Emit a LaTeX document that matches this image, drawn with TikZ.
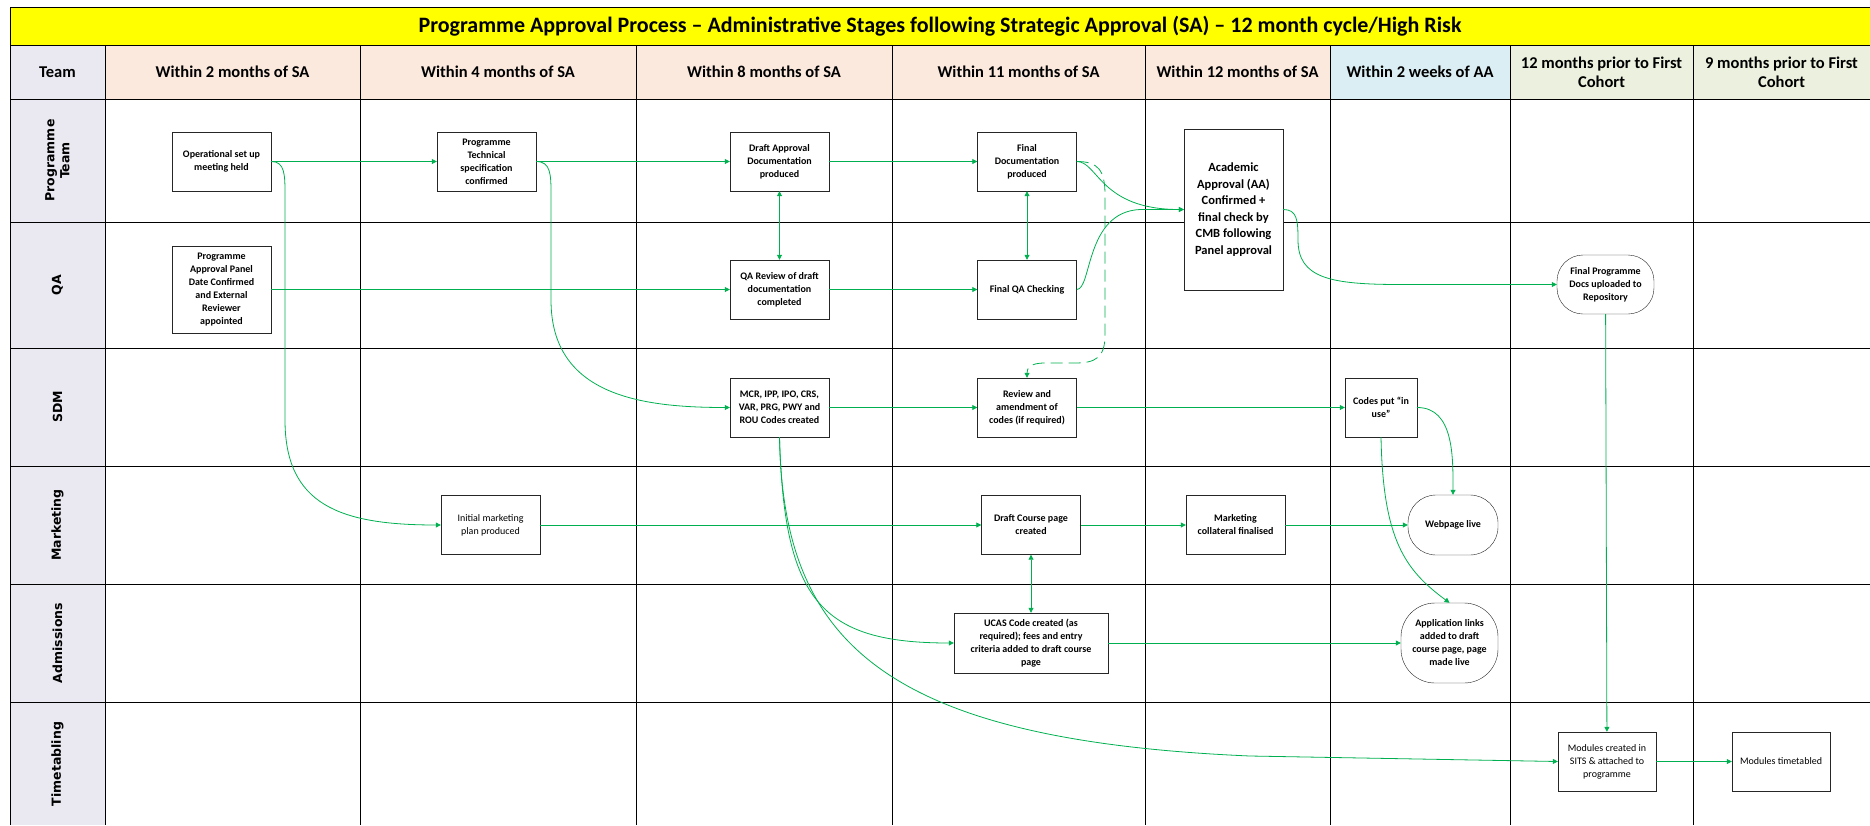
\documentclass[tikz,border=0pt]{standalone}
\usepackage{fontspec}
\setmainfont{Carlito}
\newfontfamily\lanefont{DejaVu Sans}
\usetikzlibrary{arrows.meta}
\definecolor{flowgreen}{RGB}{0,176,80}
\definecolor{titleyellow}{RGB}{255,255,0}
\definecolor{peach}{RGB}{251,233,222}
\definecolor{paleblue}{RGB}{218,238,243}
\definecolor{palegreen}{RGB}{235,241,222}
\definecolor{lavender}{RGB}{234,232,240}
\begin{document}
\begin{tikzpicture}[x=1pt,y=-1pt,
    >={Triangle[length=5pt,width=5pt]},
    task/.style={draw=black!85,fill=white,align=center,inner sep=1pt,
      minimum width=99pt,minimum height=59pt,
      font=\fontsize{10}{13}\selectfont\bfseries},
    lighttask/.style={task,font=\fontsize{10}{13}\selectfont},
    endtask/.style={task,rounded corners=26pt},
    link/.style={draw=flowgreen,line width=0.8pt},
    hdr/.style={font=\fontsize{16.5}{19}\selectfont\bfseries,align=center},
    lane/.style={font=\lanefont\fontsize{12.5}{15}\selectfont\bfseries,rotate=90,align=center}]
  \useasboundingbox (0,0) rectangle (1870,825);
  \fill[titleyellow] (10,7) rectangle (1870,45);
  \fill[lavender] (10,45) rectangle (105,825);
  \fill[peach] (105,45) rectangle (1330,99);
  \fill[paleblue] (1330,45) rectangle (1510,99);
  \fill[palegreen] (1510,45) rectangle (1870,99);
  \draw[line width=1pt] (1870,7) -- (10,7) -- (10,825);
  \foreach \y in {45,99,222,348,466,584,702}
    \draw[line width=1pt] (10,\y) -- (1870,\y);
  \foreach \x in {105,360,636,892,1145,1330,1510,1693}
    \draw[line width=0.7pt] (\x,45) -- (\x,825);

  \node (title) at (940,26) {\fontsize{22}{25}\selectfont\bfseries Programme Approval Process – Administrative Stages following Strategic Approval (SA) – 12 month cycle/High Risk};
  \draw
    (57.5,72) node[hdr] (team){Team}
    (232.5,72) node[hdr] (m2){Within 2 months of SA}
    (498,72) node[hdr] (m4){Within 4 months of SA}
    (764,72) node[hdr] (m8){Within 8 months of SA}
    (1018.5,72) node[hdr] (m11){Within 11 months of SA}
    (1237.5,72) node[hdr] (m12){Within 12 months of SA}
    (1420,72) node[hdr] (w2){Within 2 weeks of AA}
    (1601.5,72) node[hdr] (p12){12 months prior to First\\Cohort}
    (1781.5,72) node[hdr] (p9){9 months prior to First\\Cohort};
  \draw
    (57.5,160.5) node[lane] (lprog){Programme\\Team}
    (57.5,285) node[lane] (lqa){QA}
    (57.5,407) node[lane] (lsdm){SDM}
    (57.5,525) node[lane] (lmkt){Marketing}
    (57.5,643) node[lane] (ladm){Admissions}
    (57.5,764) node[lane] (ltime){Timetabling};

  \node[task] (op) at (221.5,161.5) {Operational set up\\meeting held};
  \node[task] (tech) at (486.5,161.5) {Programme\\Technical\\specification\\confirmed};
  \node[task,minimum height=87pt] (panel) at (221.5,289.5) {Programme\\Approval Panel\\Date Confirmed\\and External\\Reviewer\\appointed};
  \node[task] (draft) at (779.5,161.5) {Draft Approval\\Documentation\\produced};
  \node[task] (findoc) at (1027,161.5) {Final\\Documentation\\produced};
  \node[task] (qarev) at (779.5,289.5) {QA Review of draft\\documentation\\completed};
  \node[task] (finqa) at (1027,289.5) {Final QA Checking};
  \node[task,minimum height=161pt,font=\fontsize{12.5}{16.5}\selectfont\bfseries] (aa) at (1233.5,209.5) {Academic\\Approval (AA)\\Confirmed +\\final check by\\CMB following\\Panel approval};
  \node[endtask,minimum width=97pt] (repo) at (1605.5,284.5) {Final Programme\\Docs uploaded to\\Repository};
  \node[task] (codes) at (779.5,407.5) {MCR, IPP, IPO, CRS,\\VAR, PRG, PWY and\\ROU Codes created};
  \node[task] (review) at (1027,407.5) {Review and\\amendment of\\codes (if required)};
  \node[task,minimum width=72pt] (inuse) at (1381,407.5) {Codes put “in\\use”};
  \node[lighttask] (mkt) at (490.5,525) {Initial marketing\\plan produced};
  \node[task] (course) at (1031,525) {Draft Course page\\created};
  \node[task] (coll) at (1235.5,525) {Marketing\\collateral finalised};
  \node[endtask,minimum width=90pt,minimum height=60pt,rounded corners=28pt] (web) at (1453,525) {Webpage live};
  \node[task,minimum width=154pt,minimum height=60pt] (ucas) at (1031,643) {UCAS Code created (as\\required); fees and entry\\criteria added to draft course\\page};
  \node[endtask,minimum width=97pt,minimum height=80pt,rounded corners=34pt] (appl) at (1449.5,643) {Application links\\added to draft\\course page, page\\made live};
  \node[lighttask,minimum width=98pt] (sits) at (1607,761.5) {Modules created in\\SITS \& attached to\\programme};
  \node[lighttask,minimum width=98pt] (tabled) at (1781,761.5) {Modules timetabled};

  \begin{scope}[link,->]
    \draw (op) -- (tech);
    \draw (tech) -- (draft);
    \draw (draft) -- (findoc);
    \draw (panel) -- (qarev);
    \draw (qarev) -- (finqa);
    \draw[<->] (draft) -- (qarev);
    \draw[<->] (findoc) -- (finqa);
    \draw (codes) -- (review);
    \draw (review) -- (inuse);
    \draw (mkt) -- (course);
    \draw (course) -- (coll);
    \draw (coll) -- (web);
    \draw[<->] (course) -- (ucas);
    \draw (ucas) -- (appl);
    \draw (repo) -- (sits);
    \draw (sits) -- (tabled);
    \draw (op.east) .. controls (285,161.5) and (285,175) .. (285,195) -- (285,420) .. controls (285,505) and (340,525) .. (mkt.west);
    \draw (tech.east) .. controls (551,161.5) and (551,175) .. (551,195) -- (551,300) .. controls (551,395) and (640,407.5) .. (codes.west);
    \draw (findoc.east) .. controls (1098,161.5) and (1100,209.5) .. (aa.west);
    \draw (finqa.east) .. controls (1092,289.5) and (1085,212) .. (1140,209.5) -- (aa.west);
    \draw[dash pattern=on 12pt off 6pt] (findoc.east) .. controls (1098,161.5) and (1105,170) .. (1105,195) -- (1105,335) .. controls (1105,358) and (1095,363) .. (1075,363) -- (1045,363) .. controls (1030,363) and (1027,368) .. (review.north);
    \draw (aa.east) .. controls (1297,209.5) and (1298,220) .. (1298,240) .. controls (1298,278) and (1330,284.5) .. (1400,284.5) -- (repo.west);
    \draw (inuse.east) to[out=0,in=90] (web.north);
    \draw (inuse.south) .. controls (1383,540) and (1405,570) .. (appl.north);
    \draw (codes.south) .. controls (784,600) and (820,643) .. (ucas.west);
    \draw (codes.south) .. controls (783,640) and (880,740) .. (1250,756) -- (sits.west);
  \end{scope}
\end{tikzpicture}
\end{document}
